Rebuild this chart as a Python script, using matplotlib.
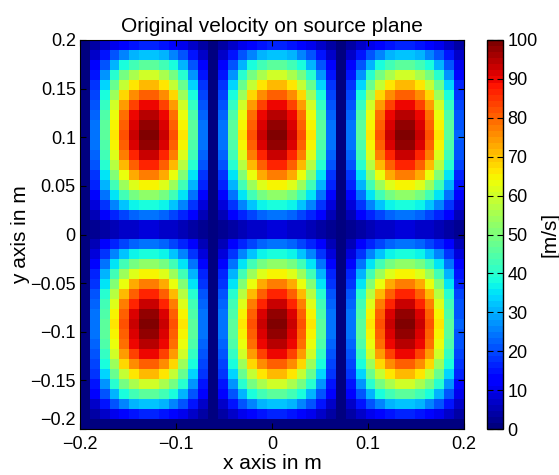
import numpy as np
import matplotlib
matplotlib.use("Agg")
import matplotlib.pyplot as plt
from matplotlib.ticker import FuncFormatter

plt.rcParams['font.family'] = ['Liberation Sans', 'DejaVu Sans']

# grid edges of the source plane (m)
x_edges = np.linspace(-0.2, 0.2, 40)
y_edges = np.linspace(-0.2, 0.2, 40)

# relative amplitude read along one row (x direction), 3 lobes
col_amp = [0.00, 0.24, 0.46, 0.66, 0.82, 0.93, 0.99, 0.99, 0.93, 0.82, 0.66, 0.46, 0.24,
           0.00, 0.24, 0.46, 0.66, 0.82, 0.93, 0.99, 0.99, 0.93, 0.82, 0.66, 0.46, 0.24,
           0.00, 0.24, 0.46, 0.66, 0.82, 0.93, 0.99, 0.99, 0.93, 0.82, 0.66, 0.46, 0.22]
# relative amplitude read along one column (y direction, bottom to top), 2 lobes
row_amp = [0.00, 0.16, 0.32, 0.46, 0.60, 0.72, 0.82, 0.90, 0.96, 0.99, 1.00, 0.98, 0.94,
           0.87, 0.78, 0.66, 0.53, 0.39, 0.24, 0.08, 0.08, 0.24, 0.39, 0.53, 0.66, 0.78,
           0.87, 0.94, 0.98, 1.00, 0.99, 0.96, 0.90, 0.82, 0.72, 0.60, 0.46, 0.32, 0.16]
v_max = 100  # m/s

vel = v_max * np.outer(row_amp, col_amp)

fig = plt.figure(figsize=(5.59, 4.75), dpi=100)
ax = fig.add_axes([80/559, 1 - 429/475, 384/559, 389/475])
cax = fig.add_axes([487/559, 1 - 429/475, 16/559, 389/475])

pc = ax.pcolormesh(x_edges, y_edges, vel, cmap=plt.get_cmap('jet', 64), vmin=0, vmax=100)
ax.set_xlim(-0.2, 0.2)
ax.set_ylim(-0.2, 0.2)
ax.set_xticks([-0.2, -0.1, 0, 0.1, 0.2])
ax.set_yticks([-0.2, -0.15, -0.1, -0.05, 0, 0.05, 0.1, 0.15, 0.2])
fmt = FuncFormatter(lambda v, p: ('%g' % round(v, 3)).replace('-', '\u2212'))
ax.xaxis.set_major_formatter(fmt)
ax.yaxis.set_major_formatter(fmt)
ax.tick_params(direction='in', top=True, right=True, labelsize=13, length=4, width=0.8)
ax.tick_params(axis='x', pad=5)
ax.tick_params(axis='y', pad=3)
ax.set_xlabel('x axis in m', fontsize=15, labelpad=1)
ax.set_ylabel('y axis in m', fontsize=15, labelpad=0)
ax.set_title('Original velocity on source plane', fontsize=15, pad=6)

# lowest y label sits above its tick, as in the original
ax.yaxis.get_major_ticks()[0].label1.set_verticalalignment('bottom')

cb = fig.colorbar(pc, cax=cax, ticks=np.arange(0, 101, 10))
cb.ax.tick_params(direction='in', labelsize=13, length=4, width=0.8, left=True, pad=3)
cb.set_label('[m/s]', fontsize=15, labelpad=2)
cb.outline.set_linewidth(1.0)

fig.savefig('out.png', dpi=100)
